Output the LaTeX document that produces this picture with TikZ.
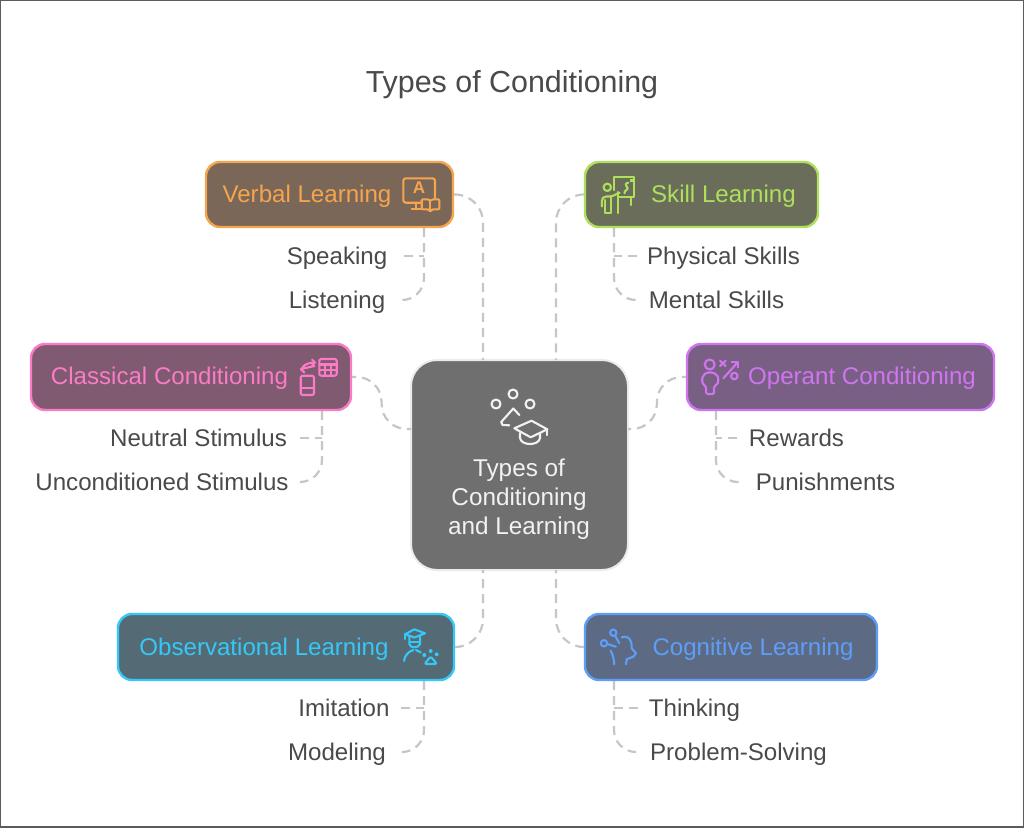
\documentclass[tikz,border=0pt]{standalone}
\usepackage{fontspec}
\setmainfont{Liberation Sans}
\usetikzlibrary{calc}
\definecolor{ink}{HTML}{4A4A4A}
\definecolor{wire}{HTML}{C6C6C6}
\definecolor{orangeS}{HTML}{F6A54F}\definecolor{orangeF}{HTML}{7A6757}
\definecolor{greenS}{HTML}{AEE05C}\definecolor{greenF}{HTML}{6A6D5A}
\definecolor{pinkS}{HTML}{FB7BC6}\definecolor{pinkF}{HTML}{7F5A70}
\definecolor{purpS}{HTML}{CF75F0}\definecolor{purpF}{HTML}{7A5F84}
\definecolor{cyanS}{HTML}{35C8F8}\definecolor{cyanF}{HTML}{546A74}
\definecolor{blueS}{HTML}{5F9EF8}\definecolor{blueF}{HTML}{5C6A84}
\definecolor{coreF}{HTML}{6F6F6F}\definecolor{coreT}{HTML}{F2F2F2}
\tikzset{
  box/.style={draw=#1S,fill=#1F,line width=2.4pt,rounded corners=14pt,inner sep=0pt,anchor=center},
  boxtext/.style={text=#1S,font=\fontsize{24.1}{28}\selectfont,inner sep=0pt,text height=18pt,text depth=2pt},
  sub/.style={text=ink,font=\fontsize{24.1}{28}\selectfont,inner ysep=0pt,text height=18pt,text depth=2pt},
  wirep/.style={draw=wire,line width=2.2pt,dash pattern=on 9pt off 6pt},
  wirephase/.style={draw=wire,line width=2.2pt,dash pattern=on 9pt off 6pt,dash phase=5pt},
  icon/.style={draw=#1S,line width=2.1pt,line cap=round,line join=round,fill=none},
}
\begin{document}
\begin{tikzpicture}[x=1pt,y=-1pt]
\useasboundingbox (0,0) rectangle (1024,827);
\fill[white] (0,0) rectangle (1024,827);
\draw[draw=ink!90,line width=2pt] (0,0) rectangle (1024,827);

\node[text=ink,font=\fontsize{30.4}{36}\selectfont,inner sep=0pt,text height=24pt,text depth=2pt] (title) at (512,81) {Types of Conditioning};

% boxes
\node[box=orange,minimum width=247pt,minimum height=65pt] (verbal) at (329.5,194.5) {};
\node[box=green,minimum width=233pt,minimum height=65pt] (skill) at (701.5,194.5) {};
\node[box=pink,minimum width=320pt,minimum height=66pt] (classical) at (191,377) {};
\node[box=purp,minimum width=307pt,minimum height=66pt] (operant) at (840.5,377) {};
\node[box=cyan,minimum width=336pt,minimum height=66pt] (observ) at (286,647) {};
\node[box=blue,minimum width=292pt,minimum height=66pt] (cognitive) at (731,647) {};
\node[draw=black!8,fill=coreF,line width=2pt,rounded corners=26pt,minimum width=217pt,minimum height=210pt,inner sep=0pt] (core) at (519.5,465) {};

\node[boxtext=orange] (tverbal) at (307,194) {Verbal Learning};
\node[boxtext=green] (tskill) at (723.5,194) {Skill Learning};
\node[boxtext=pink] (tclassical) at (169.5,376) {Classical Conditioning};
\node[boxtext=purp] (toperant) at (862,376) {Operant Conditioning};
\node[boxtext=cyan] (tobserv) at (264,647) {Observational Learning};
\node[boxtext=blue] (tcognitive) at (753,647) {Cognitive Learning};
\node[text=coreT,font=\fontsize{24.3}{29}\selectfont,align=center,inner sep=0pt] (tcore) at (519,499) {Types of\\Conditioning\\and Learning};

% sub labels
\node[sub,inner xsep=17pt] (speaking) at (337,256) {Speaking};
\node[sub,inner xsep=15.5pt] (listening) at (337,300) {Listening};
\node[sub,inner xsep=10pt] (physical) at (723.5,256) {Physical Skills};
\node[sub,inner xsep=11pt] (mental) at (716.5,300) {Mental Skills};
\node[sub,inner xsep=13pt] (neutral) at (198.5,438) {Neutral Stimulus};
\node[sub,inner xsep=11pt] (uncond) at (162,482) {Unconditioned Stimulus};
\node[sub,inner xsep=12pt] (rewards) at (796.5,438) {Rewards};
\node[sub,inner xsep=17pt] (punish) at (825.5,482) {Punishments};
\node[sub,inner xsep=11pt] (imitation) at (344,708) {Imitation};
\node[sub,inner xsep=16pt] (modeling) at (337,752) {Modeling};
\node[sub,inner xsep=11pt] (thinking) at (694.5,708) {Thinking};
\node[sub,inner xsep=14pt] (problem) at (738.5,752) {Problem-Solving};

% anchor points on the boxes
\coordinate (c1) at (483,360);
\coordinate (c2) at (556,360);
\coordinate (c3) at (483,570);
\coordinate (c4) at (556,570);
\coordinate (c5) at (411,429);
\coordinate (c6) at (628,429);
\coordinate (vs) at (424,228);
\coordinate (ss) at (614,228);
\coordinate (cs) at (322,411);
\coordinate (os) at (716,411);
\coordinate (bs) at (424,681);
\coordinate (gs) at (614,681);

% main connectors
\draw[wirep,rounded corners=28pt] (verbal.east) -| (c1);
\draw[wirep,rounded corners=28pt] (skill.west) -| (c2);
\draw[wirep,rounded corners=28pt] (observ.east) -| (c3);
\draw[wirep,rounded corners=28pt] (cognitive.west) -| (c4);
\draw[wirephase,rounded corners=25pt] (classical.east) -- ($(classical.east)!0.5!(c5|-classical.east)$) |- (c5);
\draw[wirephase,rounded corners=25pt] (operant.west) -- ($(operant.west)!0.5!(c6|-operant.west)$) |- (c6);

% sub connectors
\draw[wirep,rounded corners=22pt] (vs) |- (listening.east);
\draw[wirep] (speaking.east) -- (speaking.east -| vs);
\draw[wirep,rounded corners=22pt] (ss) |- (mental.west);
\draw[wirep] (physical.west) -- (physical.west -| ss);
\draw[wirep,rounded corners=22pt] (cs) |- (uncond.east);
\draw[wirep] (neutral.east) -- (neutral.east -| cs);
\draw[wirep,rounded corners=22pt] (os) |- (punish.west);
\draw[wirep] (rewards.west) -- (rewards.west -| os);
\draw[wirep,rounded corners=22pt] (bs) |- (modeling.east);
\draw[wirep] (imitation.east) -- (imitation.east -| bs);
\draw[wirep,rounded corners=22pt] (gs) |- (problem.west);
\draw[wirep] (thinking.west) -- (thinking.west -| gs);

% core icon
\begin{scope}[draw=coreT,line width=2.1pt,line cap=round,line join=round]
\draw (513,394) circle[radius=4.5pt];
\draw (496,404) circle[radius=4.5pt];
\draw (530,404) circle[radius=4.5pt];
\draw (519.3,415) -- (513.3,408.5) -- (501.2,422) -- (502.5,425) -- (509.3,425.3);
\draw (514.3,428.3) -- (531.5,420.7) -- (547.3,429.3) -- (530.7,437.3) -- cycle;
\draw (547.3,429.3) -- (547.3,435);
\draw (520,433) -- (520,438) .. controls (521,446) and (539,446) .. (540,438) -- (540,433);
\end{scope}

% verbal icon
\begin{scope}[icon=orange]
\draw[rounded corners=2.5pt] (421.7,202.7) -- (403.3,202.7) -- (403.3,178.3) -- (435,178.3) -- (435,198);
\draw (415.7,202.7) -- (415.7,209.3) (411.7,209.3) -- (421,209.3);
\draw[rounded corners=1pt] (430.3,201) -- (428.3,199.3) -- (421.7,199.3) -- (421.7,209.3) -- (428.3,209.3) -- (430.3,211.7) -- (432.3,209.3) -- (439.3,209.3) -- (439.3,199.3) -- (432.3,199.3) -- cycle;
\draw (430.3,201) -- (430.3,211);
\end{scope}
\node[text=orangeS,font=\fontsize{17}{20}\selectfont\bfseries,inner sep=0pt] (iconA) at (419,188) {A};

% skill icon
\begin{scope}[icon=green]
\draw (614,190) -- (614,176.7) -- (634.3,176.7) -- (634.3,197.3) -- (619.5,197.3);
\draw (631,197.3) -- (631,205);
\draw (628.3,182.7) .. controls (622,184) and (630,188) .. (627,189.5) .. controls (625,191) and (624,192) .. (624.5,193.3);
\fill[greenS] (630,178.5) rectangle (633,181.5);
\draw (607.3,187.3) circle[radius=3.7pt];
\draw[rounded corners=2pt] (619.5,192.7) -- (611.5,196.5) -- (604,196.5) -- (601.8,199) -- (601.8,206.5);
\draw (605,200) -- (605,213) -- (611,213) -- (611,197);
\draw (617.7,192) -- (617.7,213);
\end{scope}

% classical icon
\begin{scope}[icon=pink]
\draw[rounded corners=2pt] (319.3,359) rectangle (336.7,375.7);
\draw (319.3,364.5) -- (336.7,364.5) (319.3,370) -- (336.7,370) (325.2,364.5) -- (325.2,375.7) (330.9,364.5) -- (330.9,375.7);
\draw[rounded corners=2pt] (300.7,375.7) rectangle (314,395);
\draw (300.7,388.3) -- (314,388.3);
\draw (302.7,367) .. controls (305,364) and (310,362.5) .. (315,362.5);
\draw (312,359.5) -- (315,362.5) -- (312,365.5);
\draw (314.5,366) .. controls (310,367) and (305,368) .. (301,369.3);
\draw (304.3,366) -- (301,369.3) -- (304.3,372.5);
\end{scope}

% operant icon
\begin{scope}[icon=purp]
\draw (709.7,364.5) circle[radius=5pt];
\draw[rounded corners=1.5pt] (706,394) -- (706,386) -- (702.8,384.5) -- (702,379) .. controls (703,375) and (706,372.5) .. (710,372.5) .. controls (714,372.5) and (717.5,375) .. (718.5,379) -- (717.5,384.5) -- (714,386) -- (714,394) -- cycle;
\draw (720,360.7) -- (725.7,366) (725.7,360.7) -- (720,366);
\draw (723.3,378.3) -- (737.7,362.3);
\draw (731.7,361.7) -- (738.3,361.7) -- (738.3,367.3);
\draw (734.3,376) circle[radius=3.3pt];
\end{scope}

% observational icon
\begin{scope}[icon=cyan]
\draw (405,634.3) -- (414.3,629.3) -- (425,633.3) -- (414.5,637.5) -- cycle;
\draw (405,634.3) -- (405,639);
\draw (409.3,637) -- (409.3,644) .. controls (410,648.5) and (418.5,648.5) .. (420,644) -- (420,637);
\draw (410.7,641.7) -- (418.3,641.7);
\draw (404,661) .. controls (404.5,656) and (408,651.5) .. (413.3,650);
\draw (416,650) -- (420.7,652.3);
\fill[cyanS] (424.3,655) circle[radius=2pt] (430.7,651) circle[radius=2pt] (436.7,654.3) circle[radius=2pt];
\draw[rounded corners=2pt] (424.5,664) -- (430.7,656.5) -- (437,664) -- cycle;
\end{scope}

% cognitive icon
\begin{scope}[icon=blue]
\draw (613.3,632.7) circle[radius=3.2pt];
\draw (615.3,636) -- (619.3,643.3);
\draw (604,643.3) circle[radius=3.2pt];
\draw (607.3,644) -- (616,646.7);
\draw (610.7,650.7) .. controls (612.5,654) and (614,659) .. (614.3,664.3);
\draw (621.7,637.3) .. controls (629,635) and (632,640) .. (631.7,648.3) -- (636,653.3) -- (633.3,656.7) -- (626.7,659.3) -- (626,664.3);
\end{scope}
\end{tikzpicture}
\end{document}
